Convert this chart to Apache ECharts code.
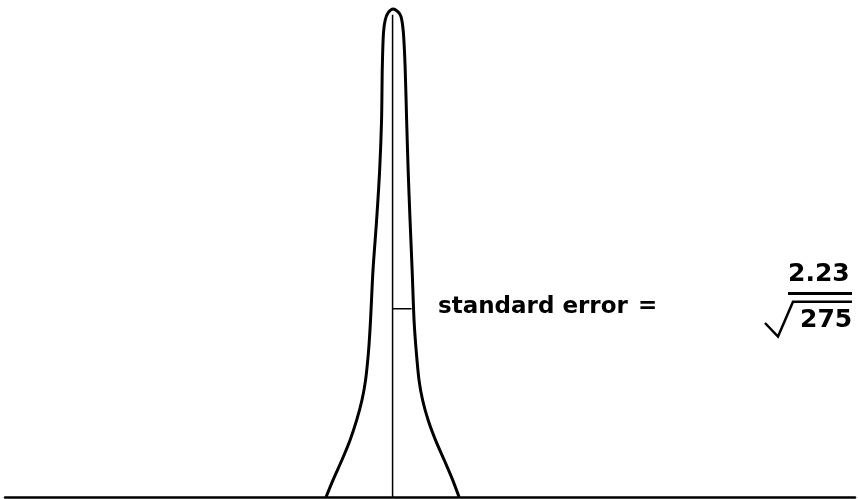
<!DOCTYPE html>
<html>
<head>
<meta charset="utf-8">
<script src="https://cdn.jsdelivr.net/npm/echarts@6/dist/echarts.min.js"></script>
<style>
  html, body { margin: 0; padding: 0; background: #fff; }
  #chart { width: 858px; height: 499px; }
</style>
</head>
<body>
<div id="chart"></div>
<script>
// distribution outline, x in standard-error units from the mean, y relative height
var curveX = [-3.50, -3.13, -2.66, -2.24, -1.89, -1.61, -1.42, -1.26, -1.16, -1.03, -0.84, -0.68, -0.58, -0.54, -0.48, -0.39, -0.24, 0.03,
              0.29, 0.45, 0.57, 0.66, 0.74, 0.82, 0.92, 1.03, 1.13, 1.24, 1.39, 1.58, 1.87, 2.26, 2.71, 3.16, 3.50];
var curveY = [0, 3.5, 7.6, 11.6, 15.7, 19.8, 23.9, 30.0, 36.1, 46.3, 56.5, 66.7, 76.9, 87.8, 94.7, 97.3, 98.8, 99.6,
              99.0, 98.0, 94.7, 87.8, 76.9, 66.7, 56.5, 46.3, 36.1, 30.0, 23.9, 19.8, 15.7, 11.6, 7.6, 3.5, 0];
var meanLineX = [0, 0];
var meanLineY = [0, 98.4];
var seTickX = [0, 1.0];
var seTickY = [38.4, 38.4];

var labelText = 'standard error';
var numerator = '2.23';
var denominator = '275';

function pairs(xs, ys) {
    return xs.map(function (x, i) { return [x, ys[i]]; });
}

var chart = echarts.init(document.getElementById('chart'));
var font = 'bold 23px "DejaVu Sans"';
var fracFont = 'bold 25px "DejaVu Sans"';

chart.setOption({
    animation: false,
    grid: { left: 5, right: 3, top: 7, bottom: 2 },
    xAxis: {
        type: 'value', min: -20.4, max: 24.34,
        axisLine: { show: true, lineStyle: { color: '#000', width: 2.5 } },
        axisTick: { show: false }, axisLabel: { show: false }, splitLine: { show: false }
    },
    yAxis: { type: 'value', min: 0, max: 100, show: false },
    series: [
        {
            type: 'line', data: pairs(curveX, curveY), smooth: 0.3, showSymbol: false,
            lineStyle: { color: '#000', width: 3 }
        },
        {
            type: 'line', data: pairs(meanLineX, meanLineY), showSymbol: false,
            lineStyle: { color: '#000', width: 1.5 }
        },
        {
            type: 'line', data: pairs(seTickX, seTickY), showSymbol: false,
            lineStyle: { color: '#000', width: 1.5 }
        }
    ],
    graphic: [
        { type: 'text', left: 438, top: 296, style: { text: labelText, font: font, fill: '#000' } },
        { type: 'text', left: 638, top: 295, style: { text: '=', font: font, fill: '#000' } },
        { type: 'text', left: 788, top: 262, style: { text: numerator, font: fracFont, fill: '#000' } },
        { type: 'line', shape: { x1: 788, y1: 293.5, x2: 852, y2: 293.5 }, style: { stroke: '#000', lineWidth: 3 } },
        { type: 'polyline', shape: { points: [[765, 323], [778, 336.5], [793, 301.7], [852, 301.7]] },
          style: { stroke: '#000', lineWidth: 2.5, fill: null } },
        { type: 'text', left: 800, top: 308, style: { text: denominator, font: fracFont, fill: '#000' } }
    ]
});
</script>
</body>
</html>
